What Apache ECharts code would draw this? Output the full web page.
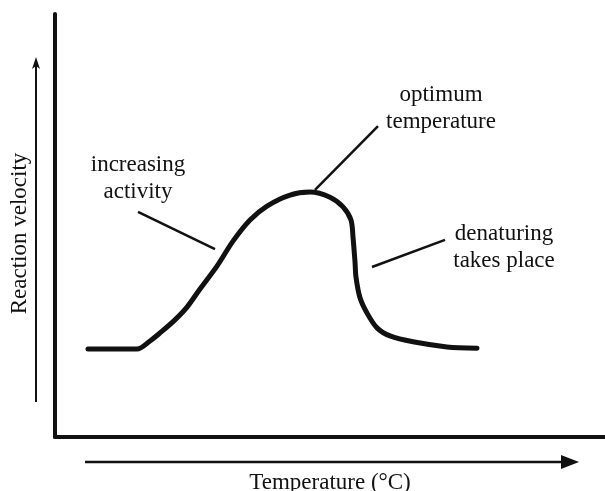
<!DOCTYPE html>
<html>
<head>
<meta charset="utf-8">
<script src="https://cdn.jsdelivr.net/npm/echarts@6/dist/echarts.min.js"></script>
<style>
  html, body { margin: 0; padding: 0; background: #fff; }
  #chart { width: 605px; height: 491px; }
</style>
</head>
<body>
<div id="chart"></div>
<script>
// Enzyme activity vs temperature (schematic units)
const temperature = [3.3, 8.2, 9.5, 10.5, 12.0, 13.2, 14.5, 16.2, 17.8, 19.5, 21.2, 23.5, 25.5,
  27.5, 28.8, 29.6, 29.8, 30.0, 30.1, 30.5, 31.2, 32.2, 33.5, 35.8, 39.2, 42.2];
const velocity = [20.8, 20.8, 22.7, 24.6, 27.7, 30.7, 35.0, 40.4, 46.3, 51.3, 54.6, 57.2, 57.9,
  56.7, 54.4, 51.3, 47.3, 41.4, 37.8, 32.9, 29.3, 25.8, 23.9, 22.5, 21.3, 21.0];

// Callout lines: [from, to] in data units
const callouts = [
  [[8.3, 53.2], [16.0, 44.4]],    // increasing activity
  [[26.0, 58.4], [32.3, 73.5]],   // optimum temperature
  [[31.7, 40.2], [39.0, 46.6]]    // denaturing takes place
];
const calloutTexts = [
  { text: 'increasing\nactivity', x: 138, y: 178 },
  { text: 'optimum\ntemperature', x: 441, y: 108 },
  { text: 'denaturing\ntakes place', x: 504, y: 247 }
];

const FONT = '"Liberation Serif", "Times New Roman", serif';
const INK = '#111';

const chart = echarts.init(document.getElementById('chart'), null, { renderer: 'canvas' });

const curve = temperature.map((t, i) => [t, velocity[i]]);

chart.setOption({
  animation: false,
  backgroundColor: '#fff',
  grid: { left: 55, right: 0, top: 14, bottom: 54, containLabel: false, outerBoundsMode: 'none' },
  xAxis: {
    type: 'value', min: 0, max: 55,
    name: 'Temperature (°C)', nameLocation: 'middle', nameGap: 34,
    nameTextStyle: { fontFamily: FONT, fontSize: 23, color: INK },
    axisLine: { onZero: false, lineStyle: { color: INK, width: 4 } },
    axisTick: { show: false }, axisLabel: { show: false }, splitLine: { show: false }
  },
  yAxis: {
    type: 'value', min: 0, max: 100,
    name: 'Reaction velocity', nameLocation: 'middle', nameGap: 24, nameRotate: 90,
    nameTextStyle: { fontFamily: FONT, fontSize: 23, color: INK, padding: [0, 16, 0, 0] },
    axisLine: { show: true, lineStyle: { color: INK, width: 4 } },
    axisTick: { show: false }, axisLabel: { show: false }, splitLine: { show: false }
  },
  series: [{
    type: 'line',
    data: curve,
    smooth: 0.3,
    showSymbol: false,
    lineStyle: { color: INK, width: 5, cap: 'round', join: 'round' },
    markLine: {
      silent: true,
      symbol: ['none', 'none'],
      label: { show: false },
      lineStyle: { color: INK, width: 2.5, type: 'solid' },
      data: callouts.map(([a, b]) => [{ coord: a }, { coord: b }])
    }
  }],
  graphic: [
    // arrow alongside the vertical axis
    { type: 'line', shape: { x1: 36, y1: 402, x2: 36, y2: 64 }, style: { stroke: INK, lineWidth: 2 } },
    { type: 'polygon', shape: { points: [[36, 57], [40, 69], [36, 66], [32, 69]] }, style: { fill: INK } },
    // arrow alongside the horizontal axis
    { type: 'line', shape: { x1: 85, y1: 462, x2: 565, y2: 462 }, style: { stroke: INK, lineWidth: 2.5 } },
    { type: 'polygon', shape: { points: [[579, 462], [561, 455], [561, 469]] }, style: { fill: INK } },
    ...calloutTexts.map(c => ({
      type: 'text', x: c.x, y: c.y,
      style: {
        text: c.text, fontFamily: FONT, fontSize: 23, lineHeight: 27,
        fill: INK, align: 'center', verticalAlign: 'middle'
      }
    }))
  ]
});
</script>
</body>
</html>
